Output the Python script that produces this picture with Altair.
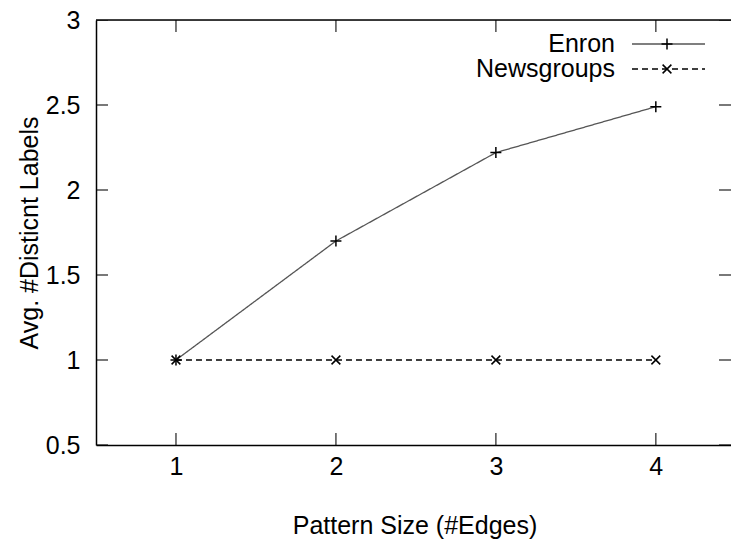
import altair as alt
import pandas as pd

# ---- data ----
sizes = [1, 2, 3, 4]
enron = [1.0, 1.7, 2.22, 2.49]
newsgroups = [1.0, 1.0, 1.0, 1.0]
series = ["Enron", "Newsgroups"]
x_ticks = [1, 2, 3, 4]
y_ticks = [0.5, 1.0, 1.5, 2.0, 2.5, 3.0]
x_title = "Pattern Size (#Edges)"
y_title = "Avg. #Disticnt Labels"

# ---- layout / style ----
W, H = 635, 425
FONT = "Liberation Sans"
FS = 25
LINE_COLORS = ["#555555", "black"]
DASHES = [[1, 0], [6, 4]]
PLUS = "M-1,0L1,0M0,-1L0,1"
CROSS = "M-0.8,-0.8L0.8,0.8M-0.8,0.8L0.8,-0.8"
SHAPES = [PLUS, CROSS]

df = pd.DataFrame({
    "size": sizes * 2,
    "value": enron + newsgroups,
    "series": [series[0]] * len(sizes) + [series[1]] * len(sizes),
})

xs = alt.Scale(domain=[0.5, 4.47], nice=False, zero=False)
ys = alt.Scale(domain=[0.5, 3.0], nice=False, zero=False)

x_axis = alt.Axis(values=x_ticks, format="d", ticks=False, grid=False,
                  domainColor="black", domainWidth=1.5,
                  labelFont=FONT, labelFontSize=FS, labelColor="black", labelPadding=9,
                  title=x_title, titleFont=FONT, titleFontSize=FS, titleFontWeight="normal",
                  titleColor="black", titleY=88, titleBaseline="alphabetic", titleX=W / 2 + 1)
y_axis = alt.Axis(values=y_ticks, format="~g", ticks=False, grid=False,
                  domainColor="black", domainWidth=1.5,
                  labelFont=FONT, labelFontSize=FS, labelColor="black", labelPadding=16,
                  title=y_title, titleFont=FONT, titleFontSize=FS, titleFontWeight="normal",
                  titleColor="black", titleX=-59, titleY=H / 2, titleAngle=270,
                  titleBaseline="alphabetic")

lines = alt.Chart(df).mark_line(strokeWidth=1.3).encode(
    x=alt.X("size:Q", scale=xs, axis=x_axis),
    y=alt.Y("value:Q", scale=ys, axis=y_axis),
    color=alt.Color("series:N", scale=alt.Scale(domain=series, range=LINE_COLORS), legend=None),
    strokeDash=alt.StrokeDash("series:N", scale=alt.Scale(domain=series, range=DASHES), legend=None),
    detail="series:N",
)

points = alt.Chart(df).mark_point(size=121, strokeWidth=1.5, filled=False, opacity=1, color="black").encode(
    x=alt.X("size:Q", scale=xs),
    y=alt.Y("value:Q", scale=ys),
    shape=alt.Shape("series:N", scale=alt.Scale(domain=series, range=SHAPES), legend=None),
)

# inward tick marks on all four sides (half clipped away)
xt = pd.DataFrame({"size": x_ticks})
yt = pd.DataFrame({"value": y_ticks})
tick_style = dict(clip=True, size=24, thickness=1.5, color="black")
xb = alt.Chart(xt).mark_tick(orient="vertical", **tick_style).encode(x=alt.X("size:Q", scale=xs), y=alt.value(H))
xtop = alt.Chart(xt).mark_tick(orient="vertical", **tick_style).encode(x=alt.X("size:Q", scale=xs), y=alt.value(0))
yl = alt.Chart(yt).mark_tick(orient="horizontal", **tick_style).encode(y=alt.Y("value:Q", scale=ys), x=alt.value(0))
yr = alt.Chart(yt).mark_tick(orient="horizontal", **tick_style).encode(y=alt.Y("value:Q", scale=ys), x=alt.value(W))

top_border = alt.Chart(pd.DataFrame({"a": [0]})).mark_rule(color="black", strokeWidth=1.5).encode(
    x=alt.value(0), x2=alt.value(W), y=alt.value(0))

# manual legend (label left of sample)
legend_layers = []
for i, name in enumerate(series):
    ld = pd.DataFrame({"series": [name]})
    yy = 24 + 25 * i
    legend_layers.append(alt.Chart(ld).mark_text(align="right", baseline="middle", font=FONT,
                                                 fontSize=FS, color="black").encode(
        x=alt.value(519), y=alt.value(yy), text="series:N"))
    legend_layers.append(alt.Chart(ld).mark_rule(color=LINE_COLORS[i], strokeWidth=1.3,
                                                 strokeDash=DASHES[i]).encode(
        x=alt.value(536), x2=alt.value(609), y=alt.value(yy)))
    legend_layers.append(alt.Chart(ld).mark_point(shape=SHAPES[i], size=121, strokeWidth=1.5,
                                                  filled=False, opacity=1, color="black").encode(
        x=alt.value(571), y=alt.value(yy)))

chart = alt.layer(lines, points, xb, xtop, yl, yr, top_border, *legend_layers).properties(
    width=W, height=H,
    autosize=alt.AutoSizeParams(type="none"),
    padding={"left": 96, "top": 20, "right": 0, "bottom": 96},
).configure_view(stroke=None).configure(background="white")

chart.save("out.html", embed_options={"renderer": "svg", "actions": False})
